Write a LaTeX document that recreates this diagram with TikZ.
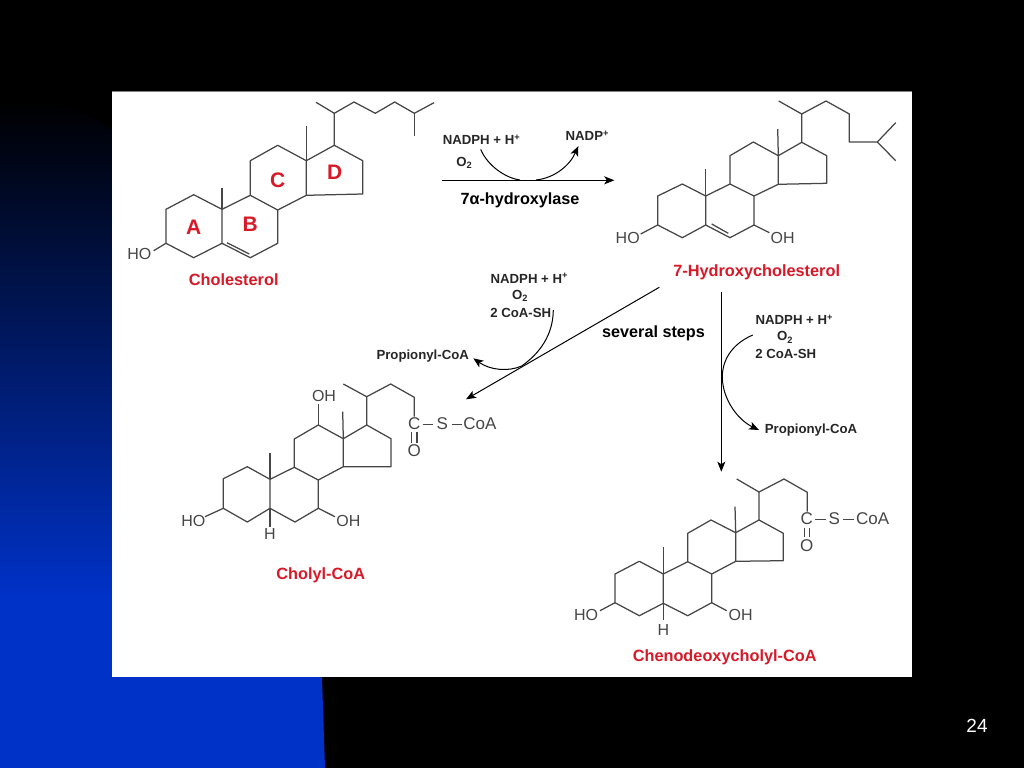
\documentclass[tikz,border=0pt]{standalone}
\usepackage{fontspec}
\setmainfont{Liberation Sans}
\usetikzlibrary{arrows.meta}
\definecolor{bondgray}{RGB}{70,70,70}
\definecolor{namered}{RGB}{215,25,40}
\definecolor{slideblue}{RGB}{0,50,200}
\newcommand{\fsize}[1]{\fontsize{#1}{#1}\selectfont}
\begin{document}
\begin{tikzpicture}[x=1pt, y=-1pt,
		bond/.style={draw=bondgray, line width=1.25pt, line join=round},
		flow/.style={draw=black, line width=1pt, -{Stealth[length=10pt, width=8pt, inset=2.5pt]}},
		atom/.style={inner sep=0pt, text=bondgray, font=\fsize{16}},
		group/.style={inner sep=0pt, text=bondgray, font=\fsize{17}},
		ring/.style={inner sep=0pt, text=namered, font=\fsize{21}\bfseries},
		compound/.style={inner sep=0pt, text=namered, font=\fsize{16.3}\bfseries},
		reagent/.style={inner sep=0pt, text=black!85, font=\fsize{13.2}\bfseries},
		enzyme/.style={inner sep=0pt, text=black, font=\fsize{16.2}\bfseries}]
	\useasboundingbox (0, 0) rectangle (1024, 768);
	\fill[black] (0, 0) rectangle (1024, 768);

	% slide background
	\begin{scope}
		\clip (0, 100) .. controls (55, 100) and (95, 113) .. (125, 140) --
		(318, 600) --
		(322, 678) --
		(325, 768) --
		(0, 768) --
		cycle;
		\shade[top color=black, bottom color=slideblue] (0, 100) rectangle (330, 600);
		\fill[slideblue] (0, 599.5) rectangle (330, 768);
	\end{scope}
	\fill[white] (112, 91) rectangle (912, 677);
	\draw[gray] (112, 91) -- (912, 91);
	\node[inner sep=0pt, text=white, font=\fsize{19}] (pagenum) at (977, 726) {24};

	% cholesterol
	\draw[bond] (166, 209.3) -- (193.7, 194.7) -- (222, 209.3) -- (222, 243.3) -- (193.7, 257.7) -- (166, 243.3) -- cycle;
	\draw[bond] (222, 209.3) -- (250.3, 195.3) -- (277.7, 210) -- (277.7, 243.3) -- (250.3, 257.7) -- (222, 243.3);
	\draw[bond] (227, 242.7) -- (249.3, 254);
	\draw[bond] (250.3, 195.3) -- (250.3, 160.7) -- (277.7, 145.3) -- (306.3, 160.7) -- (306.3, 195.3) -- (277.7, 210);
	\draw[bond] (306.3, 160.7) -- (334.3, 145.3) -- (362.7, 160.7) -- (362.7, 194) -- (306.3, 195.3);
	\draw[bond] (222, 209.3) -- (222, 187.7);
	\draw[bond] (306.3, 160.7) -- (306.3, 125.7);
	\draw[bond] (334.3, 145.3) -- (334.3, 113.3) -- (354, 102) -- (375.3, 113.3) -- (394.7, 102) -- (414.3, 113.3) -- (434, 102.7);
	\draw[bond] (334.3, 113.3) -- (316, 102.3);
	\draw[bond] (414.3, 113.3) -- (414.3, 135.7);
	\draw[bond] (166, 243.3) -- (153.7, 250.7);
	\node[atom] (hoA) at (139.3, 254) {HO};
	\node[ring] (ringA) at (193.7, 227.3) {A};
	\node[ring] (ringB) at (250.3, 224) {B};
	\node[ring] (ringC) at (277.7, 180) {C};
	\node[ring] (ringD) at (334.7, 172.3) {D};
	\node[compound] (cholesterol) at (233.7, 279.3) {Cholesterol};

	% 7-hydroxycholesterol
	\draw[bond] (657.7, 196) -- (682.3, 184) -- (705.7, 196) -- (705.7, 225) -- (682.3, 237.7) -- (657.7, 225) -- cycle;
	\draw[bond] (705.7, 196) -- (730, 184) -- (754, 196) -- (754, 225) -- (730, 237.7) -- (705.7, 225);
	\draw[bond] (711.7, 224) -- (728.3, 233.3);
	\draw[bond] (730, 184) -- (730, 155.7) -- (753.3, 142) -- (778.3, 155.7) -- (778.3, 184.3) -- (754, 196);
	\draw[bond] (778.3, 155.7) -- (801.7, 142.3) -- (826.7, 155.7) -- (826.7, 183.3) -- (778.3, 184.3);
	\draw[bond] (705.7, 196) -- (705.7, 169.3);
	\draw[bond] (778.3, 155.7) -- (777.7, 129);
	\draw[bond] (801.7, 142.3) -- (801.7, 114) -- (826, 101) -- (849.3, 114) -- (849.3, 142) -- (877.3, 142) -- (895.7, 122.7);
	\draw[bond] (801.7, 114) -- (778.7, 101);
	\draw[bond] (877.3, 142) -- (895.7, 160.7);
	\draw[bond] (657.7, 225) -- (640.7, 234);
	\draw[bond] (754, 225) -- (769.3, 232.7);
	\node[atom] (hoB) at (627.7, 237.7) {HO};
	\node[atom] (ohB) at (782.7, 237.7) {OH};
	\node[compound] (hydroxychol) at (756.7, 272.5) {7-Hydroxycholesterol};

	% cholyl-CoA
	\draw[bond] (223.3, 478.7) -- (247.3, 466.7) -- (270, 479.3) -- (270, 508.3) -- (247.3, 522) -- (223.3, 508.3) -- cycle;
	\draw[bond] (270, 479.3) -- (294.3, 467.3) -- (318.3, 480) -- (318.3, 508.3) -- (295, 522) -- (270, 508.3);
	\draw[bond] (294.3, 467.3) -- (294.3, 439) -- (318.3, 425) -- (343.3, 438.7) -- (343.3, 466.7) -- (318.3, 480);
	\draw[bond] (343.3, 438.7) -- (366.7, 425) -- (391, 438.7) -- (391, 466.7) -- (343.3, 466.7);
	\draw[bond] (270, 479.3) -- (270, 453.3);
	\draw[bond] (343.3, 438.7) -- (342.7, 411.7);
	\draw[bond] (318.3, 425) -- (318.3, 404.3);
	\draw[bond] (366.7, 425) -- (366.7, 396.7) -- (390.7, 384) -- (414.3, 397.3) -- (414.3, 416.7);
	\draw[bond] (366.7, 396.7) -- (343.3, 384);
	\draw[bond] (423.3, 424.3) -- (433.3, 424.3);
	\draw[bond] (451.7, 424.3) -- (461.7, 424.3);
	\draw[bond] (411.7, 432.3) -- (411.7, 443.3);
	\draw[bond] (417, 432.3) -- (417, 443.3);
	\draw[bond] (223.3, 508.3) -- (205, 516.7);
	\draw[bond] (318.3, 508.3) -- (335, 516.7);
	\draw[bond] (270, 508.3) -- (270, 526.7);
	\node[atom] (ohTop) at (324, 395.7) {OH};
	\node[atom] (hoC) at (193.3, 520.7) {HO};
	\node[atom] (ohC) at (348.3, 520.7) {OH};
	\node[atom] (hC) at (270, 534.3) {H};
	\node[group] (carbC) at (414.3, 423.3) {C};
	\node[group] (sulfC) at (442.3, 423.3) {S};
	\node[group] (coaC) at (480, 423.3) {CoA};
	\node[group] (oxC) at (414.3, 451) {O};
	\node[compound] (cholyl) at (320.7, 575.5) {Cholyl-CoA};

	% chenodeoxycholyl-CoA
	\draw[bond] (615, 574) -- (639.3, 561.3) -- (663.3, 574) -- (663.3, 603.3) -- (639.3, 615.7) -- (615, 602.7) -- cycle;
	\draw[bond] (663.3, 574) -- (687.7, 561.7) -- (711.7, 574) -- (711.7, 602.7) -- (687.7, 615.7) -- (663.3, 603.3);
	\draw[bond] (687.7, 561.7) -- (687.7, 533.3) -- (711, 520) -- (735.7, 532.7) -- (735.7, 561.3) -- (711.7, 574);
	\draw[bond] (735.7, 532.7) -- (759, 520) -- (783.3, 533.3) -- (783.3, 560.7) -- (735.7, 561.3);
	\draw[bond] (663.3, 574) -- (663.3, 547.3);
	\draw[bond] (735.7, 532.7) -- (735, 506.7);
	\draw[bond] (759, 520) -- (759, 492) -- (784, 479) -- (807.3, 492.3) -- (807.3, 511.7);
	\draw[bond] (759, 492) -- (736.7, 479);
	\draw[bond] (815, 519.3) -- (825.7, 519.3);
	\draw[bond] (843.3, 519.3) -- (854, 519.3);
	\draw[bond] (804.3, 528.3) -- (804.3, 537.3);
	\draw[bond] (809.3, 528.3) -- (809.3, 537.3);
	\draw[bond] (615, 602.7) -- (600, 610.7);
	\draw[bond] (711.7, 602.7) -- (726.7, 610.7);
	\draw[bond] (663.3, 603.3) -- (663.3, 620);
	\node[atom] (hoD) at (586, 615.3) {HO};
	\node[atom] (ohD) at (740.7, 615.3) {OH};
	\node[atom] (hD) at (663.3, 630) {H};
	\node[group] (carbD) at (806.7, 518.7) {C};
	\node[group] (sulfD) at (834.3, 518.7) {S};
	\node[group] (coaD) at (872.7, 518.7) {CoA};
	\node[group] (oxD) at (806.7, 546) {O};
	\node[compound] (cheno) at (724.7, 657.5) {Chenodeoxycholyl-CoA};

	% first reaction
	\coordinate (hydStart) at (441.7, 180.3);
	\coordinate (hydEnd) at (614.3, 180.3);
	\coordinate (nadIn) at (480.7, 149.3);
	\coordinate (nadTouchA) at (520, 180);
	\coordinate (nadTouchB) at (536, 180);
	\coordinate (nadOut) at (578.3, 146);
	\draw[flow] (hydStart) -- (hydEnd);
	\draw[line width=1pt] (nadIn) .. controls (487, 165) and (505, 178) .. (nadTouchA);
	\draw[flow] (nadTouchB) .. controls (555, 178) and (570, 165) .. (nadOut);
	\node[reagent] (nadphA) at (481.5, 140) {NADPH + H\textsuperscript{+}};
	\node[reagent] (oxygenA) at (464.3, 163) {O\textsubscript{2}};
	\node[reagent] (nadpA) at (587.3, 136) {NADP\textsuperscript{+}};
	\node[enzyme] (hydroxylase) at (520, 200.5) {7α-hydroxylase};

	% towards cholyl-CoA
	\coordinate (leftStart) at (659.3, 287.3);
	\coordinate (leftEnd) at (466, 399.3);
	\coordinate (coaInL) at (553.3, 310);
	\coordinate (coaTouchL) at (521.7, 366);
	\coordinate (coaOutL) at (473.3, 358.3);
	\draw[flow] (leftStart) -- (leftEnd);
	\draw[flow] (coaInL) .. controls (553, 335) and (540, 353) .. (coaTouchL) .. controls (508, 372) and (490, 370) .. (coaOutL);
	\node[reagent] (nadphL) at (529.3, 278.3) {NADPH + H\textsuperscript{+}};
	\node[reagent] (oxygenL) at (520, 296) {O\textsubscript{2}};
	\node[reagent] (coashL) at (520.7, 313.3) {2 CoA-SH};
	\node[reagent] (propL) at (422.7, 355.8) {Propionyl-CoA};
	\node[enzyme] (steps) at (653.5, 333.5) {several steps};

	% towards chenodeoxycholyl-CoA
	\coordinate (rightStart) at (721.3, 292.3);
	\coordinate (rightEnd) at (721.3, 471.7);
	\coordinate (coaInR) at (752.7, 335);
	\coordinate (coaTouchR) at (722.3, 378);
	\coordinate (coaOutR) at (759, 430);
	\draw[flow] (rightStart) -- (rightEnd);
	\draw[flow] (coaInR) .. controls (730, 345) and (722, 362) .. (coaTouchR) .. controls (723, 400) and (738, 420) .. (coaOutR);
	\node[reagent] (nadphR) at (794.3, 320) {NADPH + H\textsuperscript{+}};
	\node[reagent] (oxygenR) at (785, 337.3) {O\textsubscript{2}};
	\node[reagent] (coashR) at (785.7, 354) {2 CoA-SH};
	\node[reagent] (propR) at (811, 430.5) {Propionyl-CoA};
\end{tikzpicture}
\end{document}
